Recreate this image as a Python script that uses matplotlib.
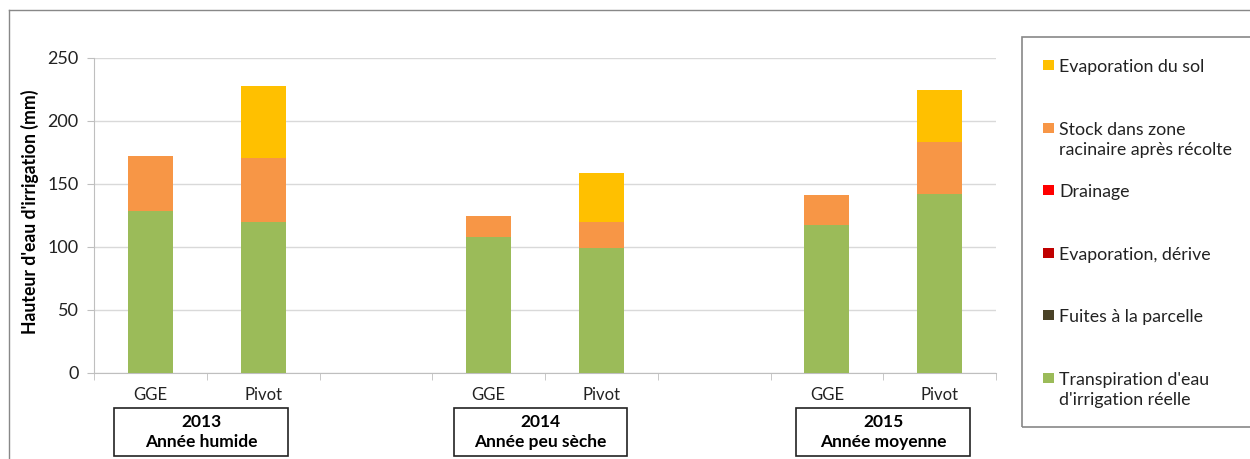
import numpy as np
import matplotlib
matplotlib.use("Agg")
import matplotlib.pyplot as plt
from matplotlib.patches import Rectangle
from matplotlib.lines import Line2D

plt.rcParams['font.family'] = ['Lato', 'DejaVu Sans']

# categories (empty slots separate the years)
categories = ["GGE", "Pivot", "", "GGE", "Pivot", "", "GGE", "Pivot"]
years = ["2013\nAnnée humide", "2014\nAnnée peu sèche", "2015\nAnnée moyenne"]
year_centers = [0.45, 3.46, 6.5]

# stacked series, bottom to top (mm)
transpiration = [128.5, 119.5, 0, 107.5, 99, 0, 117, 142]
fuites = [0, 0, 0, 0, 0, 0, 0, 0]
evap_derive = [0, 0, 0, 0, 0, 0, 0, 0]
drainage = [0, 0, 0, 0, 0, 0, 0, 0]
stock = [43.5, 51, 0, 17.3, 20.6, 0, 24.3, 41]
evap_sol = [0, 57, 0, 0, 38.7, 0, 0, 41]

series = [
    ("Transpiration d'eau\nd'irrigation réelle", transpiration, "#9bbb59"),
    ("Fuites à la parcelle", fuites, "#4a4227"),
    ("Evaporation, dérive", evap_derive, "#c00000"),
    ("Drainage", drainage, "#ff0000"),
    ("Stock dans zone\nracinaire après récolte", stock, "#f79646"),
    ("Evaporation du sol", evap_sol, "#ffc000"),
]

fig = plt.figure(figsize=(12.5, 4.59), dpi=100)
ax = fig.add_axes([0.0752, 0.1874, 0.7216, 0.6873])

x = np.arange(len(categories))
bottom = np.zeros(len(categories))
for name, vals, col in series:
    vals = np.array(vals, dtype=float)
    ax.bar(x, vals, width=0.4, bottom=bottom, color=col, zorder=3)
    bottom += vals

ax.set_xlim(-0.5, len(categories) - 0.5)
ax.set_ylim(0, 250)
ax.set_yticks(range(0, 251, 50))
ax.yaxis.grid(True, color="#d9d9d9", lw=1, zorder=0)
for s in ["top", "right"]:
    ax.spines[s].set_visible(False)
for s in ["left", "bottom"]:
    ax.spines[s].set_color("#bfbfbf")

ax.set_xticks(x)
ax.set_xticklabels(categories)
ax.set_xticks(np.arange(-0.5, len(categories)), minor=True)
ax.tick_params(axis="x", which="major", length=0, pad=10, labelsize=12, colors="#222222")
ax.tick_params(axis="x", which="minor", length=5, color="#bfbfbf")
ax.tick_params(axis="y", length=5, color="#bfbfbf", labelsize=13, pad=6, labelcolor="#222222")

fig.text(30 / 1250, 1 - 212 / 459, "Hauteur d'eau d'irrigation (mm)", rotation=90,
         ha="center", va="center", fontsize=12.7, fontweight="bold")

# year boxes under each pair of bars
trans = ax.get_xaxis_transform()
for xc, label in zip(year_centers, years):
    ax.add_patch(Rectangle((xc - 0.77, -0.262), 1.54, 0.15, transform=trans,
                           fill=False, edgecolor="#222222", lw=1.2, clip_on=False))
    ax.text(xc, -0.187, label, transform=trans, ha="center", va="center",
            fontsize=12.5, fontweight="bold", linespacing=1.25)

# outer frame (left and top only)
fig.add_artist(Line2D([8.5 / 1250, 8.5 / 1250], [0, 1 - 10 / 459], color="#888888", lw=1))
fig.add_artist(Line2D([8.5 / 1250, 1], [1 - 10 / 459, 1 - 10 / 459], color="#888888", lw=1))

# legend box
fig.add_artist(Rectangle((1022 / 1250, 1 - 427 / 459), 0.3, 390 / 459,
                         fill=False, edgecolor="#888888", lw=1.2))
for k, (name, vals, col) in enumerate(reversed(series)):
    yc = 1 - (65 + 62.6 * k) / 459
    fig.add_artist(Rectangle((1043 / 1250, yc - 5 / 459), 11 / 1250, 10 / 459,
                             facecolor=col, edgecolor="none"))
    fig.text(1059 / 1250, yc + 6 / 459, name, ha="left", va="top",
             fontsize=12.8, linespacing=1.3, color="#222222")

fig.savefig("out.png", dpi=100)
